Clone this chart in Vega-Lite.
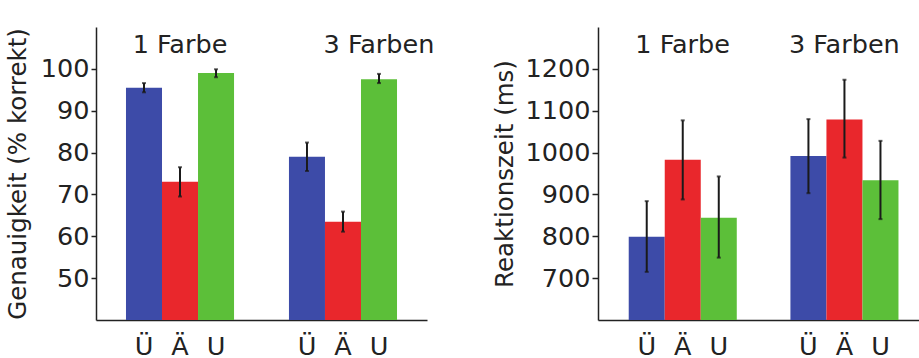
{
  "$schema": "https://vega.github.io/schema/vega-lite/v6.json",
  "padding": {"left": 5, "top": 27, "right": 0, "bottom": 0},
  "background": "white",
  "config": {
    "view": {"stroke": null},
    "font": "DejaVu Sans",
    "axis": {"grid": false, "domainColor": "#222", "domainWidth": 1.5, "tickColor": "#222", "tickWidth": 1.5, "labelColor": "#222", "titleColor": "#222", "labelFont": "DejaVu Sans", "titleFont": "DejaVu Sans", "labelFontSize": 25.5, "titleFontSize": 24.5, "titleFontWeight": "normal"},
    "concat": {"spacing": 57}
  },
  "datasets": {
    "acc": [
      {"group": "1 Farbe", "cond": "Ü", "value": 95.5, "lo": 94.4, "hi": 96.6},
      {"group": "1 Farbe", "cond": "Ä", "value": 73.0, "lo": 69.5, "hi": 76.5},
      {"group": "1 Farbe", "cond": "U", "value": 99.0, "lo": 98.0, "hi": 99.9},
      {"group": "3 Farben", "cond": "Ü", "value": 79.0, "lo": 75.6, "hi": 82.4},
      {"group": "3 Farben", "cond": "Ä", "value": 63.5, "lo": 61.1, "hi": 65.9},
      {"group": "3 Farben", "cond": "U", "value": 97.5, "lo": 96.6, "hi": 98.8}
    ],
    "rt": [
      {"group": "1 Farbe", "cond": "Ü", "value": 799, "lo": 715, "hi": 884},
      {"group": "1 Farbe", "cond": "Ä", "value": 983, "lo": 888, "hi": 1077},
      {"group": "1 Farbe", "cond": "U", "value": 844, "lo": 749, "hi": 943},
      {"group": "3 Farben", "cond": "Ü", "value": 992, "lo": 903, "hi": 1080},
      {"group": "3 Farben", "cond": "Ä", "value": 1079, "lo": 988, "hi": 1174},
      {"group": "3 Farben", "cond": "U", "value": 934, "lo": 841, "hi": 1028}
    ],
    "groups": [
      {"group": "1 Farbe"},
      {"group": "3 Farben"}
    ]
  },
  "hconcat": [
    {
      "width": 331,
      "height": 293,
      "encoding": {
        "x": {"field": "group", "type": "nominal", "sort": ["1 Farbe", "3 Farben"], "scale": {"paddingInner": 0.337, "paddingOuter": 0.184}, "axis": {"labels": false, "ticks": false, "title": null}}
      },
      "layer": [
        {
          "data": {"name": "acc"},
          "mark": {"type": "bar"},
          "encoding": {
            "xOffset": {"field": "cond", "type": "nominal", "sort": ["Ü", "Ä", "U"], "scale": {"paddingInner": 0, "paddingOuter": 0}},
            "y": {"field": "value", "type": "quantitative", "scale": {"domain": [40, 110], "zero": false, "nice": false}, "axis": {"values": [50, 60, 70, 80, 90, 100], "format": "d", "title": "Genauigkeit (% korrekt)", "tickSize": 5, "labelPadding": 2, "titlePadding": 10}},
            "y2": {"datum": 40},
            "color": {"field": "cond", "type": "nominal", "scale": {"domain": ["Ü", "Ä", "U"], "range": ["#3d4ba8", "#e9272c", "#5cbf39"]}, "legend": null}
          }
        },
        {
          "data": {"name": "acc"},
          "mark": {"type": "rule", "color": "#1a1a1a", "strokeWidth": 2},
          "encoding": {
            "xOffset": {"field": "cond", "type": "nominal", "sort": ["Ü", "Ä", "U"]},
            "y": {"field": "lo", "type": "quantitative"},
            "y2": {"field": "hi"}
          }
        },
        {
          "data": {"name": "acc"},
          "mark": {"type": "tick", "color": "#1a1a1a", "thickness": 2, "size": 4},
          "encoding": {
            "xOffset": {"field": "cond", "type": "nominal", "sort": ["Ü", "Ä", "U"]},
            "y": {"field": "lo", "type": "quantitative"}
          }
        },
        {
          "data": {"name": "acc"},
          "mark": {"type": "tick", "color": "#1a1a1a", "thickness": 2, "size": 4},
          "encoding": {
            "xOffset": {"field": "cond", "type": "nominal", "sort": ["Ü", "Ä", "U"]},
            "y": {"field": "hi", "type": "quantitative"}
          }
        },
        {
          "data": {"name": "acc"},
          "mark": {"type": "text", "baseline": "top", "dy": 15, "fontSize": 25.5, "color": "#222"},
          "encoding": {
            "xOffset": {"field": "cond", "type": "nominal", "sort": ["Ü", "Ä", "U"]},
            "y": {"datum": 40},
            "text": {"field": "cond"}
          }
        },
        {
          "data": {"name": "groups"},
          "transform": [{"filter": "datum.group === '1 Farbe'"}],
          "mark": {"type": "text", "baseline": "middle", "fontSize": 25.5, "color": "#222"},
          "encoding": {
            "y": {"datum": 105.8},
            "text": {"field": "group"}
          }
        },
        {
          "data": {"name": "groups"},
          "transform": [{"filter": "datum.group === '3 Farben'"}],
          "mark": {"type": "text", "baseline": "middle", "fontSize": 25.5, "color": "#222", "dx": 36},
          "encoding": {
            "y": {"datum": 105.8},
            "text": {"field": "group"}
          }
        }
      ]
    },
    {
      "width": 331,
      "height": 293,
      "encoding": {
        "x": {"field": "group", "type": "nominal", "sort": ["1 Farbe", "3 Farben"], "scale": {"paddingInner": 0.333, "paddingOuter": 0.19}, "axis": {"labels": false, "ticks": false, "title": null}}
      },
      "layer": [
        {
          "data": {"name": "rt"},
          "mark": {"type": "bar"},
          "encoding": {
            "xOffset": {"field": "cond", "type": "nominal", "sort": ["Ü", "Ä", "U"], "scale": {"paddingInner": 0, "paddingOuter": 0}},
            "y": {"field": "value", "type": "quantitative", "scale": {"domain": [600, 1300], "zero": false, "nice": false}, "axis": {"values": [700, 800, 900, 1000, 1100, 1200], "format": "d", "title": "Reaktionszeit (ms)", "tickSize": 6, "labelPadding": 2, "titlePadding": 8}},
            "y2": {"datum": 600},
            "color": {"field": "cond", "type": "nominal", "scale": {"domain": ["Ü", "Ä", "U"], "range": ["#3d4ba8", "#e9272c", "#5cbf39"]}, "legend": null}
          }
        },
        {
          "data": {"name": "rt"},
          "mark": {"type": "rule", "color": "#1a1a1a", "strokeWidth": 2},
          "encoding": {
            "xOffset": {"field": "cond", "type": "nominal", "sort": ["Ü", "Ä", "U"]},
            "y": {"field": "lo", "type": "quantitative"},
            "y2": {"field": "hi"}
          }
        },
        {
          "data": {"name": "rt"},
          "mark": {"type": "tick", "color": "#1a1a1a", "thickness": 2, "size": 4},
          "encoding": {
            "xOffset": {"field": "cond", "type": "nominal", "sort": ["Ü", "Ä", "U"]},
            "y": {"field": "lo", "type": "quantitative"}
          }
        },
        {
          "data": {"name": "rt"},
          "mark": {"type": "tick", "color": "#1a1a1a", "thickness": 2, "size": 4},
          "encoding": {
            "xOffset": {"field": "cond", "type": "nominal", "sort": ["Ü", "Ä", "U"]},
            "y": {"field": "hi", "type": "quantitative"}
          }
        },
        {
          "data": {"name": "rt"},
          "mark": {"type": "text", "baseline": "top", "dy": 15, "fontSize": 25.5, "color": "#222"},
          "encoding": {
            "xOffset": {"field": "cond", "type": "nominal", "sort": ["Ü", "Ä", "U"]},
            "y": {"datum": 600},
            "text": {"field": "cond"}
          }
        },
        {
          "data": {"name": "groups"},
          "mark": {"type": "text", "baseline": "middle", "fontSize": 25.5, "color": "#222"},
          "encoding": {
            "y": {"datum": 1258},
            "text": {"field": "group"}
          }
        }
      ]
    }
  ]
}
